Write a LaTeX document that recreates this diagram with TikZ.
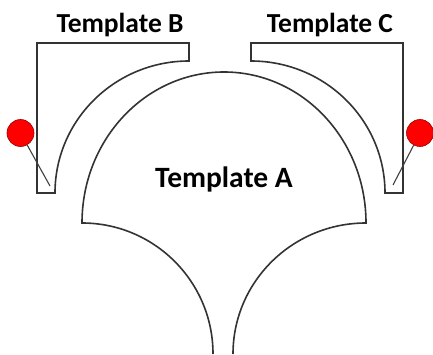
\documentclass[tikz,border=0pt]{standalone}
\usepackage{fontspec}
\setmainfont{Carlito}
\begin{document}
\begin{tikzpicture}[x=1pt,y=1pt,
  outline/.style={draw=black!80,line width=1.6pt,line join=miter},
  pinhead/.style={circle,draw=red!60!black,fill=red,line width=0.6pt,minimum size=27pt,inner sep=0pt},
  pinneedle/.style={draw=black!75,line width=1.1pt},
  lblBC/.style={anchor=base,inner sep=0pt,font=\fontsize{27.5}{30}\selectfont\bfseries},
  lblA/.style={anchor=base,inner sep=0pt,font=\fontsize{29.5}{32}\selectfont\bfseries}]
\useasboundingbox (0,0) rectangle (433,354);
% Template B
\draw[outline] (37,311) -- (189,311) -- (189,293)
  arc[start angle=90,end angle=180,x radius=134,y radius=132] -- (37,161) -- cycle;
% Template C
\draw[outline] (403,311) -- (251,311) -- (251,293)
  arc[start angle=90,end angle=0,x radius=134,y radius=132] -- (403,161) -- cycle;
% Template A
\draw[outline] (213,0) arc[start angle=0,end angle=90,x radius=131,y radius=131]
  arc[start angle=180,end angle=0,x radius=142,y radius=151]
  arc[start angle=90,end angle=180,x radius=133,y radius=131];
% pins
\coordinate (tipB) at (50,168);
\coordinate (tipC) at (393,169);
\node[pinhead] (pinB) at (20.5,221) {};
\node[pinhead] (pinC) at (420,221) {};
\draw[pinneedle] (pinB) -- (tipB);
\draw[pinneedle] (pinC) -- (tipC);
% labels
\node[lblBC] (labB) at (120,321) {Template B};
\node[lblBC] (labC) at (330,321) {Template C};
\node[lblA] (labA) at (224,167) {Template A};
\end{tikzpicture}
\end{document}
